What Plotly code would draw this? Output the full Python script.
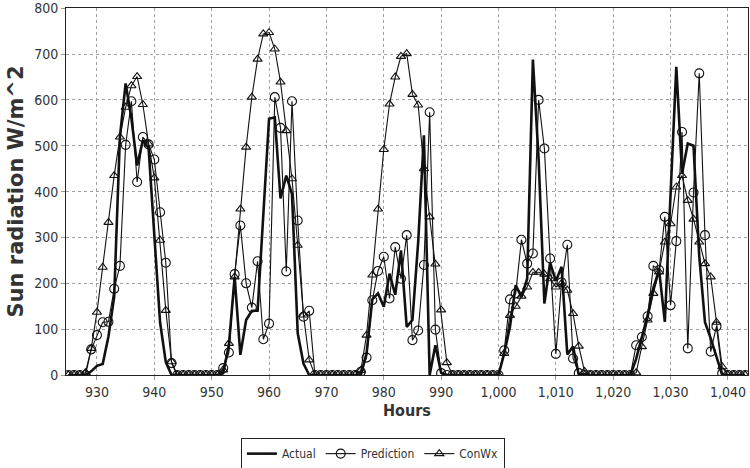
import plotly.graph_objects as go

hours = list(range(925, 1044))

actual = (
    [0, 0, 0, 0, 8, 20, 24, 84, 171, 520, 636, 560, 457, 512, 495, 310, 115, 28, 0]  # 925-943
    + [0] * 8  # 944-951
    + [4, 65, 214, 44, 120, 140, 140, 350, 559, 562, 385, 435, 395, 91, 25, 0]  # 952-967
    + [0] * 9  # 968-976
    + [47, 165, 178, 149, 221, 175, 272, 105, 120, 290, 523, 0, 65, 5]  # 977-990
    + [0] * 10  # 991-1000
    + [47, 105, 196, 170, 210, 688, 470, 156, 245, 205, 236, 45, 62, 0]  # 1001-1014
    + [0] * 9  # 1015-1023
    + [35, 80, 130, 190, 229, 116, 400, 672, 439, 505, 500, 260, 115, 80, 40, 0]  # 1024-1039
    + [0] * 4  # 1040-1043
)

prediction = (
    [0, 0, 0, 0, 56, 87, 115, 116, 188, 238, 502, 597, 421, 519, 503, 470, 355, 245, 26]
    + [0] * 8
    + [15, 49, 220, 326, 200, 147, 248, 78, 112, 606, 539, 226, 597, 337, 127, 140]
    + [0] * 8  # 968-975
    + [7, 38, 163, 227, 258, 167, 279, 210, 305, 76, 97, 240, 573, 99, 4]  # 976-990
    + [0] * 10
    + [54, 165, 178, 295, 243, 265, 600, 494, 254, 46, 202, 284, 36, 4]
    + [0] * 9
    + [65, 83, 128, 238, 229, 345, 152, 292, 530, 58, 398, 658, 305, 51, 106, 4]
    + [0] * 4
)

conwx = (
    [0, 0, 0, 5, 58, 137, 235, 333, 435, 519, 584, 631, 651, 590, 504, 430, 294, 141, 29]
    + [0] * 8
    + [11, 69, 214, 362, 497, 606, 689, 744, 747, 711, 639, 533, 428, 283, 131, 33]
    + [0] * 8
    + [10, 87, 218, 362, 492, 591, 650, 695, 701, 612, 589, 450, 345, 242, 142, 27]  # 976-991
    + [0] * 9  # 992-1000
    + [47, 130, 150, 172, 192, 224, 224, 220, 210, 192, 200, 185, 134, 63, 8]  # 1001-1015
    + [0] * 8  # 1016-1023
    + [5, 62, 120, 178, 225, 290, 330, 410, 435, 381, 340, 290, 243, 214, 115, 18]
    + [0] * 4
)

x_ticks = list(range(930, 1041, 10))
y_ticks = list(range(0, 801, 100))

FONT = "DejaVu Sans Condensed"
INK = "#333333"

fig = go.Figure()
fig.add_trace(go.Scatter(
    x=hours, y=actual, name="Actual", mode="lines",
    line=dict(color="#111111", width=2.6),
))
fig.add_trace(go.Scatter(
    x=hours, y=prediction, name="Prediction", mode="lines+markers",
    line=dict(color="#111111", width=1.1),
    marker=dict(symbol="circle-open", size=9, color="#111111", line=dict(width=1.1)),
))
fig.add_trace(go.Scatter(
    x=hours, y=conwx, name="ConWx", mode="lines+markers",
    line=dict(color="#111111", width=1.1),
    marker=dict(symbol="triangle-up-open", size=8, color="#111111", line=dict(width=1.1)),
))

fig.update_layout(
    width=750, height=468,
    margin=dict(l=66, r=2, t=8, b=93, autoexpand=False),
    paper_bgcolor="white", plot_bgcolor="white",
    font=dict(family=FONT, size=13, color=INK),
    showlegend=True,
    legend=dict(
        orientation="h", x=0.45, xanchor="center", y=-0.172, yanchor="top",
        bordercolor="#222222", borderwidth=1, font=dict(size=12, color=INK),
        itemwidth=30, tracegroupgap=0,
    ),
    xaxis=dict(
        range=[924.6, 1043.5],
        tickvals=x_ticks, tickformat=",d",
        showgrid=True, gridcolor="#a0a0a0", griddash="dot", gridwidth=1,
        showline=True, linecolor="#222222", linewidth=1, mirror=True,
        ticks="outside", ticklen=4, tickcolor="#999999",
        zeroline=False, automargin=False,
        tickfont=dict(size=14),
        title=dict(text="<b>Hours</b>", font=dict(size=16, color=INK), standoff=6),
    ),
    yaxis=dict(
        range=[0, 800.5],
        tickvals=y_ticks,
        showgrid=True, gridcolor="#a0a0a0", griddash="dot", gridwidth=1,
        showline=True, linecolor="#222222", linewidth=1, mirror=True,
        ticks="outside", ticklen=4, tickcolor="#999999",
        zeroline=False, automargin=False,
        tickfont=dict(size=14),
        title=dict(text="<b>Sun radiation W/m^2</b>",
                   font=dict(family="DejaVu Sans", size=21, color=INK), standoff=4),
    ),
)

fig.write_html(
    "out.html",
    config={"displayModeBar": False},
    post_script="document.body.style.margin='0';document.body.style.overflow='hidden';",
)
